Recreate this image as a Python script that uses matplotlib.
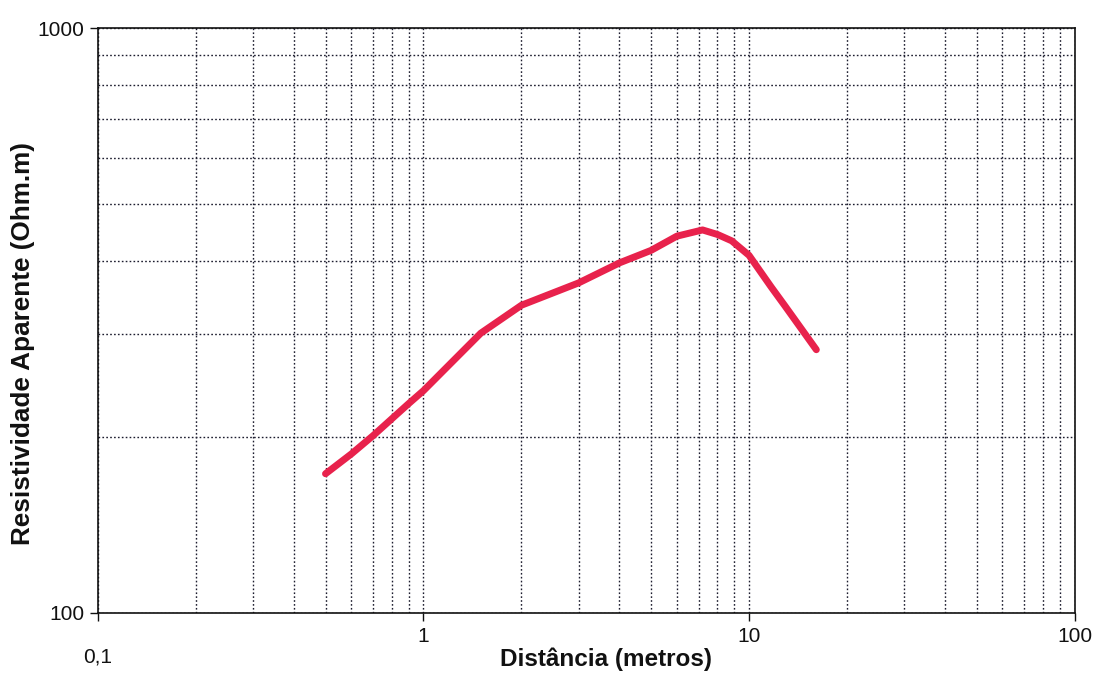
import matplotlib
matplotlib.use("Agg")
import matplotlib.pyplot as plt
from matplotlib.ticker import FixedLocator, NullFormatter

plt.rcParams['font.family'] = ['Liberation Sans', 'DejaVu Sans']

# values (distance in metres, apparent resistivity)
distancia = [0.5, 0.6, 0.7, 0.9, 1.0, 1.5, 2.0, 3.0, 4.0, 5.0, 6.0, 7.2, 8.0, 8.85, 10.0, 11.7, 12.9, 16.1]
resistividade = [173, 187, 201, 228, 240, 301, 336, 367, 397, 417, 441, 452, 444, 433, 409, 361, 335, 282]

x_ticks = [0.1, 1, 10, 100]
x_labels = ['0,1', '1', '10', '100']
y_ticks = [100, 1000]
y_labels = ['100', '1000']

fig = plt.figure(figsize=(10.96, 6.75), dpi=100)
ax = fig.add_axes([0.0894, 0.092, 0.891, 0.866])

ax.plot(distancia, resistividade, color='#e8224c', linewidth=5,
        solid_capstyle='round', solid_joinstyle='round', zorder=3)

ax.set_xscale('log')
ax.set_yscale('log')
ax.set_xlim(0.1, 100)
ax.set_ylim(100, 1000)

ax.xaxis.set_major_locator(FixedLocator(x_ticks))
ax.yaxis.set_major_locator(FixedLocator(y_ticks))
ax.set_xticklabels(x_labels)
ax.set_yticklabels(y_labels)
ax.xaxis.set_minor_formatter(NullFormatter())
ax.yaxis.set_minor_formatter(NullFormatter())

# the "0,1" label sits lower than the others
for lbl in ax.get_xticklabels():
    if lbl.get_text() == '0,1':
        lbl.set_y(-0.036)

ax.tick_params(axis='both', which='major', length=6, width=1, direction='out',
               labelsize=15, colors='#111111', pad=4)
ax.tick_params(axis='both', which='minor', length=0)

ax.grid(True, which='both', axis='both', color='#1c1c2e',
        linestyle=(0, (1.2, 1.6)), linewidth=1.0)
for s in ax.spines.values():
    s.set_linewidth(1.2)
    s.set_color('#111111')

ax.set_xlabel('Distância (metros)', fontsize=17.5, fontweight='bold', color='#111111')
ax.set_ylabel('Resistividade Aparente (Ohm.m)', fontsize=18.8, fontweight='bold', color='#111111')
ax.xaxis.set_label_coords(0.52, -0.060)
ax.yaxis.set_label_coords(-0.064, 0.46)

fig.savefig('out.png', dpi=100)
